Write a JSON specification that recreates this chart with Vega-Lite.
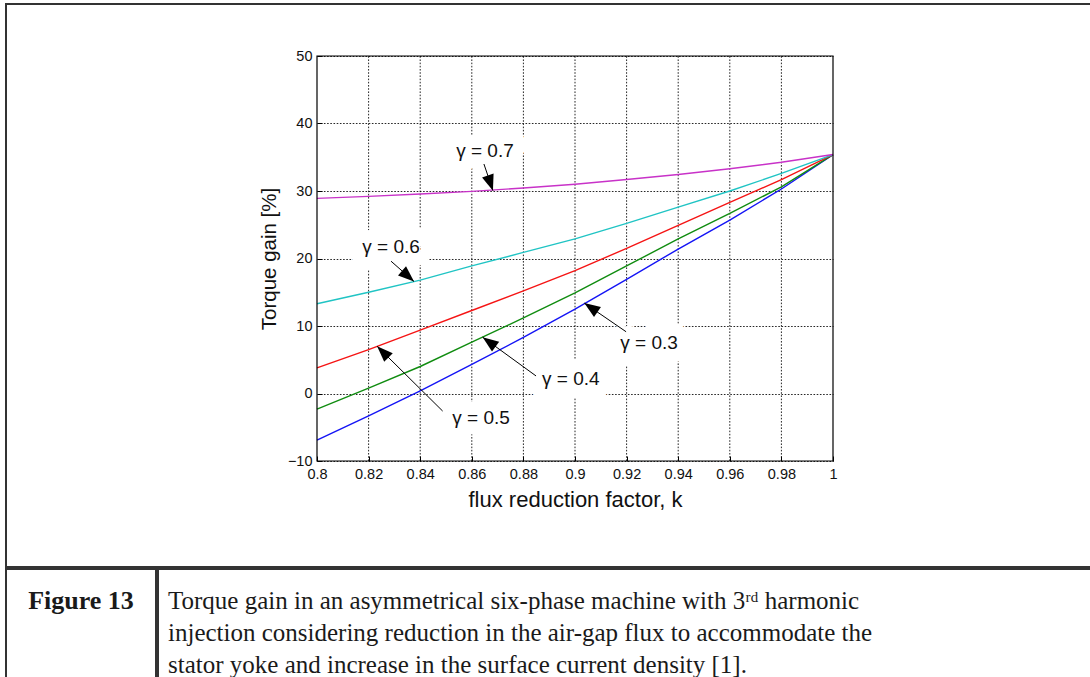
{
  "$schema": "https://vega.github.io/schema/vega-lite/v6.json",
  "background": "white",
  "padding": {"left": 5, "top": 3, "right": 0, "bottom": 0},
  "spacing": 0,
  "config": {
    "view": {"stroke": "#333333", "strokeWidth": 2},
    "font": "Liberation Sans",
    "axis": {
      "labelFont": "Liberation Sans",
      "titleFont": "Liberation Sans",
      "labelColor": "#111111",
      "titleColor": "#111111",
      "titleFontWeight": "normal"
    }
  },
  "datasets": {
    "curves": [
      {"gamma": "0.3", "k": 0.80, "gain": -6.9},
      {"gamma": "0.3", "k": 0.82, "gain": -3.3},
      {"gamma": "0.3", "k": 0.84, "gain": 0.4},
      {"gamma": "0.3", "k": 0.86, "gain": 4.3},
      {"gamma": "0.3", "k": 0.88, "gain": 8.3},
      {"gamma": "0.3", "k": 0.90, "gain": 12.5},
      {"gamma": "0.3", "k": 0.92, "gain": 16.9},
      {"gamma": "0.3", "k": 0.94, "gain": 21.4},
      {"gamma": "0.3", "k": 0.96, "gain": 25.7},
      {"gamma": "0.3", "k": 0.98, "gain": 30.3},
      {"gamma": "0.3", "k": 1.00, "gain": 35.4},
      {"gamma": "0.4", "k": 0.80, "gain": -2.3},
      {"gamma": "0.4", "k": 0.82, "gain": 0.8},
      {"gamma": "0.4", "k": 0.84, "gain": 4.0},
      {"gamma": "0.4", "k": 0.86, "gain": 7.6},
      {"gamma": "0.4", "k": 0.88, "gain": 11.2},
      {"gamma": "0.4", "k": 0.90, "gain": 14.9},
      {"gamma": "0.4", "k": 0.92, "gain": 18.9},
      {"gamma": "0.4", "k": 0.94, "gain": 22.9},
      {"gamma": "0.4", "k": 0.96, "gain": 26.7},
      {"gamma": "0.4", "k": 0.98, "gain": 30.6},
      {"gamma": "0.4", "k": 1.00, "gain": 35.4},
      {"gamma": "0.5", "k": 0.80, "gain": 3.8},
      {"gamma": "0.5", "k": 0.82, "gain": 6.5},
      {"gamma": "0.5", "k": 0.84, "gain": 9.4},
      {"gamma": "0.5", "k": 0.86, "gain": 12.3},
      {"gamma": "0.5", "k": 0.88, "gain": 15.2},
      {"gamma": "0.5", "k": 0.90, "gain": 18.2},
      {"gamma": "0.5", "k": 0.92, "gain": 21.5},
      {"gamma": "0.5", "k": 0.94, "gain": 24.9},
      {"gamma": "0.5", "k": 0.96, "gain": 28.3},
      {"gamma": "0.5", "k": 0.98, "gain": 31.7},
      {"gamma": "0.5", "k": 1.00, "gain": 35.4},
      {"gamma": "0.6", "k": 0.80, "gain": 13.3},
      {"gamma": "0.6", "k": 0.82, "gain": 15.0},
      {"gamma": "0.6", "k": 0.84, "gain": 16.8},
      {"gamma": "0.6", "k": 0.86, "gain": 18.9},
      {"gamma": "0.6", "k": 0.88, "gain": 20.9},
      {"gamma": "0.6", "k": 0.90, "gain": 22.9},
      {"gamma": "0.6", "k": 0.92, "gain": 25.2},
      {"gamma": "0.6", "k": 0.94, "gain": 27.6},
      {"gamma": "0.6", "k": 0.96, "gain": 30.0},
      {"gamma": "0.6", "k": 0.98, "gain": 32.6},
      {"gamma": "0.6", "k": 1.00, "gain": 35.4},
      {"gamma": "0.7", "k": 0.80, "gain": 28.9},
      {"gamma": "0.7", "k": 0.82, "gain": 29.2},
      {"gamma": "0.7", "k": 0.84, "gain": 29.55},
      {"gamma": "0.7", "k": 0.86, "gain": 29.95},
      {"gamma": "0.7", "k": 0.88, "gain": 30.45},
      {"gamma": "0.7", "k": 0.90, "gain": 31.0},
      {"gamma": "0.7", "k": 0.92, "gain": 31.7},
      {"gamma": "0.7", "k": 0.94, "gain": 32.45},
      {"gamma": "0.7", "k": 0.96, "gain": 33.3},
      {"gamma": "0.7", "k": 0.98, "gain": 34.25},
      {"gamma": "0.7", "k": 1.00, "gain": 35.4}
    ],
    "kGrid": [
      {"k": 0.82}, {"k": 0.84}, {"k": 0.86}, {"k": 0.88}, {"k": 0.9},
      {"k": 0.92}, {"k": 0.94}, {"k": 0.96}, {"k": 0.98}
    ],
    "notes": [
      {"label": "γ = 0.7", "textK": 0.8651, "textG": 35.9, "tailK": 0.8647, "tailG": 34.0, "tipK": 0.8682, "tipG": 30.05},
      {"label": "γ = 0.6", "textK": 0.8287, "textG": 21.7, "tailK": 0.8287, "tailG": 19.6, "tipK": 0.8376, "tipG": 16.6},
      {"label": "γ = 0.5", "textK": 0.8636, "textG": -3.6, "tailK": 0.8487, "tailG": -2.6, "tipK": 0.8233, "tipG": 7.0},
      {"label": "γ = 0.4", "textK": 0.8984, "textG": 2.15, "tailK": 0.8849, "tailG": 2.6, "tipK": 0.8642, "tipG": 8.35},
      {"label": "γ = 0.3", "textK": 0.9287, "textG": 7.5, "tailK": 0.9198, "tailG": 9.15, "tipK": 0.9036, "tipG": 13.4}
    ],
    "caption": [
      {"cell": "label", "line": 1, "text": "Figure 13"},
      {"cell": "body", "line": 1, "text": "Torque gain in an asymmetrical six-phase machine with 3ʳᵈ harmonic"},
      {"cell": "body", "line": 2, "text": "injection considering reduction in the air-gap flux to accommodate the"},
      {"cell": "body", "line": 3, "text": "stator yoke and increase in the surface current density [1]."}
    ]
  },
  "vconcat": [
    {
      "width": 1095,
      "height": 563,
      "layer": [
        {
          "data": {"name": "curves"},
          "mark": {"type": "line", "strokeWidth": 1.4, "strokeOpacity": 0, "interpolate": "linear"},
          "encoding": {
            "x": {
              "field": "k", "type": "quantitative",
              "scale": {"domain": [0.8, 1], "range": [311, 827], "nice": false, "zero": false},
              "axis": {
                "orient": "bottom", "offset": -106,
                "values": [0.8, 0.82, 0.84, 0.86, 0.88, 0.9, 0.92, 0.94, 0.96, 0.98, 1],
                "format": "~g",
                "title": "flux reduction factor, k",
                "titleFontSize": 22, "titlePadding": 9,
                "labelFontSize": 14.5, "labelPadding": 11,
                "labelFlush": false, "labelOverlap": false,
                "tickSize": -5, "tickColor": "black",
                "domain": false,
                "grid": false
              }
            },
            "y": {
              "field": "gain", "type": "quantitative",
              "scale": {"domain": [-10, 50], "range": [457, 52], "nice": false, "zero": false},
              "axis": {
                "orient": "left", "offset": -311,
                "values": [-10, 0, 10, 20, 30, 40, 50],
                "format": "d",
                "title": "Torque gain [%]",
                "titleFontSize": 20.5, "titlePadding": 8,
                "labelFontSize": 14.5, "labelPadding": 10,
                "labelFlush": false, "labelOverlap": false,
                "tickSize": -5, "tickColor": "black",
                "domain": false,
                "grid": true, "gridColor": "black", "gridDash": [1.6, 1.6], "gridOpacity": 0.85, "gridWidth": 1
              }
            },
            "color": {
              "field": "gamma", "type": "nominal", "legend": null,
              "scale": {"domain": ["0.3", "0.4", "0.5", "0.6", "0.7"], "range": ["#1414f5", "#108c10", "#f51414", "#20c4c4", "#c832c8"]}
            }
          }
        },
        {
          "data": {"name": "kGrid"},
          "mark": {"type": "rule", "color": "black", "strokeWidth": 1, "strokeDash": [1.6, 1.6], "opacity": 0.85},
          "encoding": {
            "x": {"field": "k", "type": "quantitative", "scale": {"domain": [0.8, 1], "range": [311, 827], "nice": false, "zero": false}},
            "y": {"datum": -10, "type": "quantitative", "scale": {"domain": [-10, 50], "range": [457, 52], "nice": false, "zero": false}},
            "y2": {"datum": 50}
          }
        },
        {
          "data": {"name": "notes"},
          "mark": {"type": "text", "fontSize": 19, "font": "Liberation Sans", "color": "white", "stroke": "white", "strokeWidth": 26, "strokeJoin": "round", "align": "center", "baseline": "middle"},
          "encoding": {
            "x": {"field": "textK", "type": "quantitative", "scale": {"domain": [0.8, 1], "range": [311, 827], "nice": false, "zero": false}},
            "y": {"field": "textG", "type": "quantitative", "scale": {"domain": [-10, 50], "range": [457, 52], "nice": false, "zero": false}},
            "text": {"field": "label"}
          }
        },
        {
          "data": {"name": "curves"},
          "mark": {"type": "line", "strokeWidth": 1.4, "interpolate": "linear"},
          "encoding": {
            "x": {"field": "k", "type": "quantitative", "scale": {"domain": [0.8, 1], "range": [311, 827], "nice": false, "zero": false}},
            "y": {"field": "gain", "type": "quantitative", "scale": {"domain": [-10, 50], "range": [457, 52], "nice": false, "zero": false}},
            "color": {"field": "gamma", "type": "nominal", "legend": null}
          }
        },
        {
          "data": {"name": "notes"},
          "mark": {"type": "rule", "color": "black", "strokeWidth": 1},
          "encoding": {
            "x": {"field": "tailK", "type": "quantitative", "scale": {"domain": [0.8, 1], "range": [311, 827], "nice": false, "zero": false}},
            "y": {"field": "tailG", "type": "quantitative", "scale": {"domain": [-10, 50], "range": [457, 52], "nice": false, "zero": false}},
            "x2": {"field": "tipK"},
            "y2": {"field": "tipG"}
          }
        },
        {
          "data": {"name": "notes"},
          "transform": [
            {"calculate": "atan2((datum.tipK - datum.tailK) * 2580, (datum.tipG - datum.tailG) * 6.75) * 180 / PI", "as": "headAngle"}
          ],
          "mark": {"type": "point", "shape": "M0,0L-0.38,1L0.38,1Z", "filled": true, "color": "black", "opacity": 1, "size": 1024, "strokeWidth": 0},
          "encoding": {
            "x": {"field": "tipK", "type": "quantitative", "scale": {"domain": [0.8, 1], "range": [311, 827], "nice": false, "zero": false}},
            "y": {"field": "tipG", "type": "quantitative", "scale": {"domain": [-10, 50], "range": [457, 52], "nice": false, "zero": false}},
            "angle": {"field": "headAngle", "type": "quantitative", "scale": null}
          }
        },
        {
          "data": {"name": "notes"},
          "mark": {"type": "text", "fontSize": 19, "font": "Liberation Sans", "color": "#111111", "align": "center", "baseline": "middle"},
          "encoding": {
            "x": {"field": "textK", "type": "quantitative", "scale": {"domain": [0.8, 1], "range": [311, 827], "nice": false, "zero": false}},
            "y": {"field": "textG", "type": "quantitative", "scale": {"domain": [-10, 50], "range": [457, 52], "nice": false, "zero": false}},
            "text": {"field": "label"}
          }
        },
        {
          "data": {"values": [{}]},
          "mark": {"type": "rect", "filled": false, "stroke": "black", "strokeWidth": 1.2},
          "encoding": {
            "x": {"datum": 0.8, "type": "quantitative", "scale": {"domain": [0.8, 1], "range": [311, 827], "nice": false, "zero": false}},
            "x2": {"datum": 1},
            "y": {"datum": -10, "type": "quantitative", "scale": {"domain": [-10, 50], "range": [457, 52], "nice": false, "zero": false}},
            "y2": {"datum": 50}
          }
        }
      ]
    },
    {
      "spacing": 0,
      "hconcat": [
        {
          "width": 150,
          "height": 128,
          "data": {"name": "caption"},
          "transform": [{"filter": "datum.cell == 'label'"}],
          "mark": {"type": "text", "font": "Liberation Serif", "fontWeight": "bold", "fontSize": 26, "color": "#1a1a1a", "align": "center", "baseline": "middle"},
          "encoding": {
            "y": {"field": "line", "type": "ordinal", "axis": null, "scale": {"type": "point", "domain": [1, 2, 3], "padding": 1.207}},
            "text": {"field": "text"}
          }
        },
        {
          "width": 950,
          "height": 128,
          "data": {"name": "caption"},
          "transform": [{"filter": "datum.cell == 'body'"}],
          "mark": {"type": "text", "font": "Liberation Serif", "fontSize": 25, "color": "#1a1a1a", "align": "left", "baseline": "middle"},
          "encoding": {
            "x": {"value": 10},
            "y": {"field": "line", "type": "ordinal", "axis": null, "scale": {"type": "point", "domain": [1, 2, 3], "padding": 1.207}},
            "text": {"field": "text"}
          }
        }
      ]
    }
  ]
}
